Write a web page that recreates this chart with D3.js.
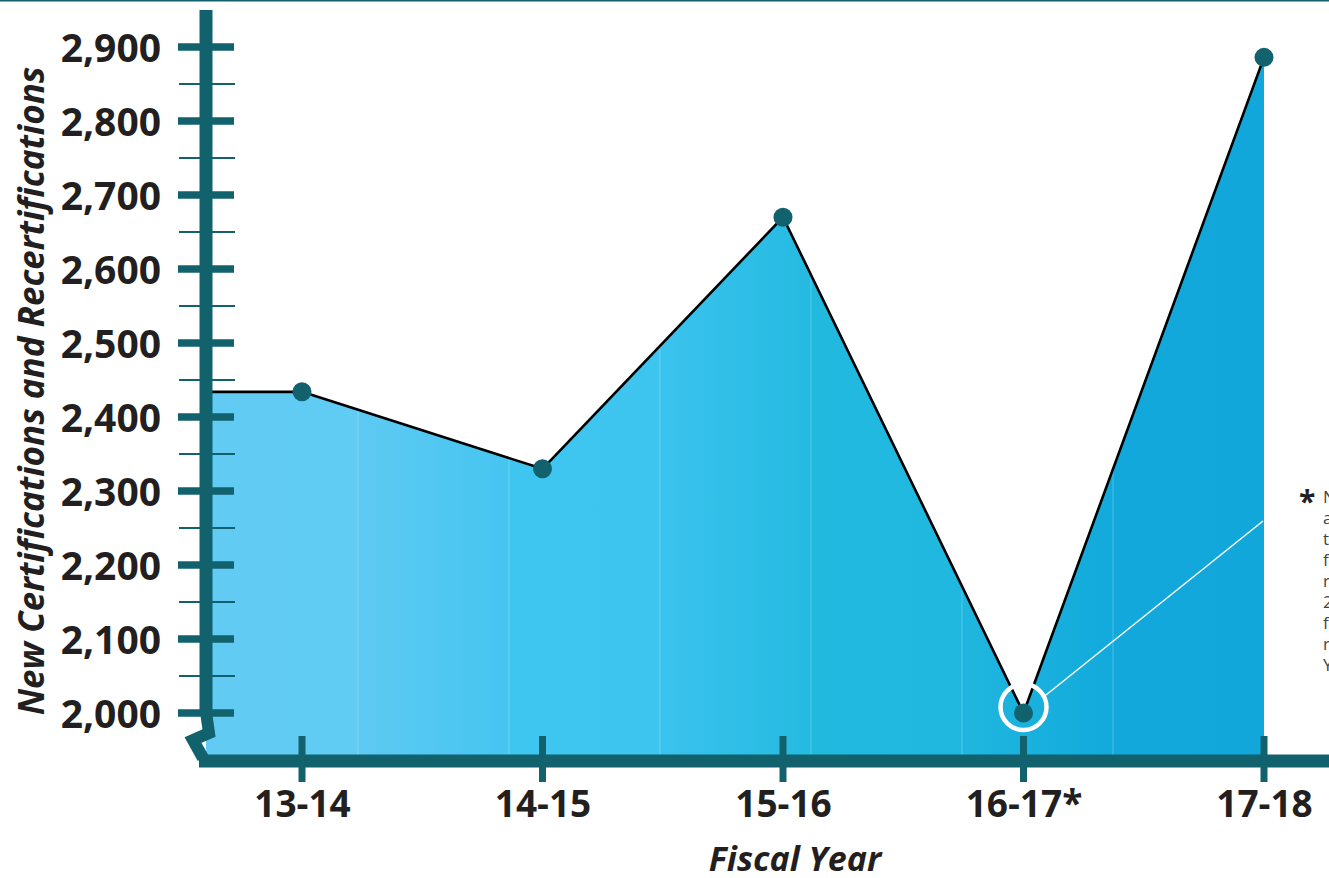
<!DOCTYPE html>
<html>
<head>
<meta charset="utf-8">
<script src="https://cdn.jsdelivr.net/npm/d3@7"></script>
<style>
  html, body { margin: 0; padding: 0; background: #fff; overflow: hidden; }
  svg { display: block; font-family: "Open Sans", sans-serif; }
</style>
</head>
<body>
<div id="chart"></div>
<script>
// data
const years = ["13-14", "14-15", "15-16", "16-17*", "17-18"];
const counts = [2434, 2330, 2670, 2000, 2886];
const yTicks = [2000, 2100, 2200, 2300, 2400, 2500, 2600, 2700, 2800, 2900];
const yMinorTicks = [2050, 2150, 2250, 2350, 2450, 2550, 2650, 2750, 2850];
const noteLines = ["New", "and", "the", "figures", "reflect", "2016-17", "for", "reporting", "Year"];

const teal = "#12626e";
const W = 1329, H = 878;

const svg = d3.select("#chart")
    .append("svg")
    .attr("width", W)
    .attr("height", H);

const x = d3.scalePoint()
    .domain(years)
    .range([302, 1264]);

const y = d3.scaleLinear()
    .domain([2000, 2900])
    .range([713, 47]);

const axisX = 206;   // centre of the vertical bar
const baseY = 761;   // centre of the horizontal bar

// top rule
svg.append("line")
    .attr("x1", 0).attr("x2", W)
    .attr("y1", 0.5).attr("y2", 0.5)
    .attr("stroke", teal)
    .attr("stroke-width", 2);

// banded blue gradient
const defs = svg.append("defs");
const grad = defs.append("linearGradient")
    .attr("id", "areaGrad")
    .attr("gradientUnits", "userSpaceOnUse")
    .attr("x1", 207).attr("x2", 1264)
    .attr("y1", 0).attr("y2", 0);
const stops = [
    [0, "#62cbf3"], [1 / 7, "#60cbf3"],
    [1 / 7, "#5ecaf3"], [2 / 7, "#45c5f0"],
    [2 / 7, "#3ec5f0"], [3 / 7, "#3dc4ef"],
    [3 / 7, "#3ac3ee"], [4 / 7, "#25bae1"],
    [4 / 7, "#22b9df"], [5 / 7, "#21b8df"],
    [5 / 7, "#1fb6df"], [6 / 7, "#12aadc"],
    [6 / 7, "#12a8dc"], [1, "#11a7db"]
];
grad.selectAll("stop")
    .data(stops)
    .join("stop")
    .attr("offset", d => d[0])
    .attr("stop-color", d => d[1]);

const firstY = y(counts[0]);
const lastX = x(years[years.length - 1]);

const pts = years.map((yr, i) => [x(yr), y(counts[i])]);
const linePts = [[axisX + 6, firstY]].concat(pts);

const areaPts = [[axisX, baseY], [axisX, firstY]].concat(pts, [[lastX, baseY]]);

defs.append("clipPath")
    .attr("id", "areaClip")
    .append("path")
    .attr("d", d3.line()(areaPts) + "Z");

svg.append("path")
    .attr("d", d3.line()(areaPts) + "Z")
    .attr("fill", "url(#areaGrad)");

// faint band seams
const seams = d3.range(1, 7).map(k => 207 + k * 151);
svg.append("g")
    .attr("clip-path", "url(#areaClip)")
    .selectAll("line")
    .data(seams)
    .join("line")
    .attr("x1", d => d).attr("x2", d => d)
    .attr("y1", 0).attr("y2", baseY)
    .attr("stroke", "#ffffff")
    .attr("stroke-opacity", 0.25)
    .attr("stroke-width", 1);

// line
svg.append("path")
    .attr("d", d3.line()(linePts))
    .attr("fill", "none")
    .attr("stroke", "#000")
    .attr("stroke-width", 2.6)
    .attr("stroke-linejoin", "round");

// highlight ring for 16-17 and pointer line to the note
const hx = x("16-17*"), hy = y(counts[3]) - 6;
svg.append("line")
    .attr("x1", hx + 20).attr("y1", hy - 10)
    .attr("x2", lastX - 1).attr("y2", 521)
    .attr("stroke", "#fff")
    .attr("stroke-width", 1.5);
svg.append("circle")
    .attr("cx", hx).attr("cy", hy)
    .attr("r", 23)
    .attr("fill", "none")
    .attr("stroke", "#fff")
    .attr("stroke-width", 4.5);

// dots
svg.selectAll("circle.dot")
    .data(pts)
    .join("circle")
    .attr("class", "dot")
    .attr("cx", d => d[0])
    .attr("cy", d => d[1])
    .attr("r", 9.5)
    .attr("fill", teal);

// y axis bar with break
svg.append("line")
    .attr("x1", axisX).attr("x2", axisX)
    .attr("y1", 10).attr("y2", 716)
    .attr("stroke", teal)
    .attr("stroke-width", 13);
svg.append("path")
    .attr("d", `M${axisX},712 L${axisX + 3},733 L${axisX - 13},740 L${axisX - 3},758`)
    .attr("fill", "none")
    .attr("stroke", teal)
    .attr("stroke-width", 12)
    .attr("stroke-linejoin", "miter");

// y ticks
svg.selectAll("line.minor")
    .data(yMinorTicks)
    .join("line")
    .attr("class", "minor")
    .attr("x1", 179).attr("x2", 235)
    .attr("y1", d => y(d)).attr("y2", d => y(d))
    .attr("stroke", teal)
    .attr("stroke-width", 2);
svg.selectAll("line.major")
    .data(yTicks)
    .join("line")
    .attr("class", "major")
    .attr("x1", 178).attr("x2", 234)
    .attr("y1", d => y(d)).attr("y2", d => y(d))
    .attr("stroke", teal)
    .attr("stroke-width", 7.5);

// y labels via axis
const yAxis = svg.append("g")
    .attr("transform", "translate(178,0)")
    .call(d3.axisLeft(y).tickValues(yTicks).tickFormat(d3.format(",")).tickSize(0).tickPadding(17));
yAxis.select(".domain").remove();
yAxis.selectAll("text")
    .attr("font-family", "'Open Sans', sans-serif")
    .attr("font-size", 39)
    .attr("font-weight", 700)
    .attr("fill", "#231f20")
    .attr("dy", "0.36em");

// x axis bar
svg.append("line")
    .attr("x1", 199).attr("x2", W)
    .attr("y1", baseY).attr("y2", baseY)
    .attr("stroke", teal)
    .attr("stroke-width", 13);

// x ticks
svg.selectAll("line.xtick")
    .data(years)
    .join("line")
    .attr("class", "xtick")
    .attr("x1", d => x(d)).attr("x2", d => x(d))
    .attr("y1", 736).attr("y2", 782)
    .attr("stroke", teal)
    .attr("stroke-width", 7);

const xAxis = svg.append("g")
    .attr("transform", `translate(0,${baseY})`)
    .call(d3.axisBottom(x).tickSize(0).tickPadding(30));
xAxis.select(".domain").remove();
xAxis.selectAll("text")
    .attr("font-family", "'Open Sans', sans-serif")
    .attr("font-size", 37)
    .attr("font-weight", 700)
    .attr("fill", "#231f20");

// axis titles
svg.append("text")
    .attr("transform", "translate(44,391) rotate(-90)")
    .attr("text-anchor", "middle")
    .attr("font-size", 35)
    .attr("font-weight", 700)
    .attr("font-style", "italic")
    .attr("fill", "#231f20")
    .text("New Certifications and Recertifications");

svg.append("text")
    .attr("x", 795)
    .attr("y", 871)
    .attr("text-anchor", "middle")
    .attr("font-size", 34)
    .attr("font-weight", 700)
    .attr("font-style", "italic")
    .attr("fill", "#231f20")
    .text("Fiscal Year");

// footnote (runs off the right edge, as in the source)
svg.append("text")
    .attr("x", 1299)
    .attr("y", 512)
    .attr("font-size", 30)
    .attr("font-weight", 700)
    .attr("fill", "#231f20")
    .text("*");
svg.append("g")
    .selectAll("text")
    .data(noteLines)
    .join("text")
    .attr("x", 1323)
    .attr("y", (d, i) => 503 + i * 21)
    .attr("font-size", 17)
    .attr("fill", "#444")
    .text(d => d);
</script>
</body>
</html>
